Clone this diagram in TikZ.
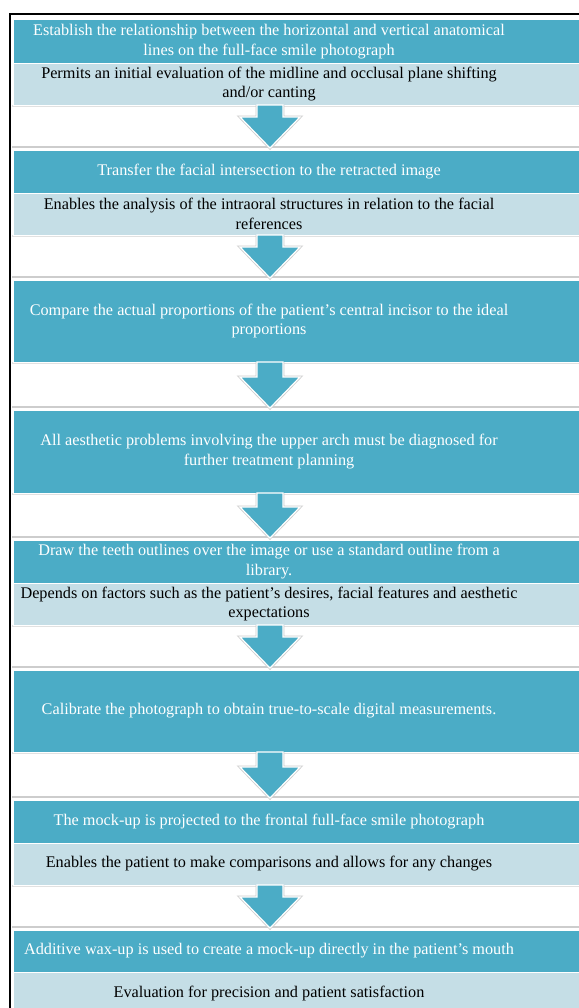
\documentclass[tikz,border=0pt]{standalone}
\usepackage{fontspec}
\setmainfont{Liberation Serif}
\usetikzlibrary{calc}
\definecolor{tealbox}{RGB}{75,172,198}
\definecolor{palebox}{RGB}{197,222,230}
\definecolor{sepgray}{RGB}{205,205,205}
\tikzset{
  darkbox/.style={fill=tealbox, draw=white, line width=0.8bp, anchor=north west, inner sep=0pt, outer sep=0pt, minimum width=620bp},
  lightbox/.style={fill=palebox, draw=white, line width=0.8bp, anchor=north west, inner sep=0pt, outer sep=0pt, minimum width=620bp},
  darktext/.style={text=white, font=\fontsize{16.3}{20}\selectfont, align=center, inner sep=0pt},
  lighttext/.style={text=black, font=\fontsize{16.3}{20}\selectfont, align=center, inner sep=0pt},
  sepline/.style={draw=sepgray, line width=1.2bp},
  flowarrow/.style={fill=tealbox, draw=white, line width=1.2bp, line join=miter},
  flowshadow/.style={draw=sepgray, line width=2.8bp, line join=miter},
  frameline/.style={draw=black, line width=2.6bp}
}
\newcommand{\flowarr}[2]{%
  \path[flowshadow] ($(#1)+(-13,0)$) -- ($(#2)+(-13,-31)$) -- ($(#2)+(-30,-31)$) -- (#2) -- ($(#2)+(30,-31)$) -- ($(#2)+(13,-31)$) -- ($(#1)+(13,0)$);
  \path[flowarrow] ($(#1)+(-13,0)$) -- ($(#1)+(13,0)$) -- ($(#2)+(13,-31)$) -- ($(#2)+(30,-31)$) -- (#2) -- ($(#2)+(-30,-31)$) -- ($(#2)+(-13,-31)$) -- cycle;
}
\begin{document}
\begin{tikzpicture}[x=1bp,y=-1bp]
\useasboundingbox (0,0) rectangle (579,1008);
\fill[white] (0,0) rectangle (579,1008);
\clip (0,0) rectangle (579,1008);

% group separator lines
\foreach \yy in {147,277,407,537,667,797,927} {
  \path[sepline] (12,\yy) -- (600,\yy);
}
\foreach \yy in {106,236,363,494,626,753,886} {
  \path[sepline, draw=sepgray!60] (12,\yy) -- (600,\yy);
}

% stage 1
\node[darkbox, minimum height=44bp] (s1) at (13,19) {};
\node[lightbox, minimum height=42bp] (c1) at (13,63) {};
\node[darktext] (t1) at (269,41.5) {Establish the relationship between the horizontal and vertical anatomical\\lines on the full-face smile photograph};
\node[lighttext] (u1) at (269,84) {Permits an initial evaluation of the midline and occlusal plane shifting\\and/or canting};

% stage 2
\node[darkbox, minimum height=43bp] (s2) at (13,150) {};
\node[lightbox, minimum height=42bp] (c2) at (13,193) {};
\node[darktext] (t2) at (269,171.5) {Transfer the facial intersection to the retracted image};
\node[lighttext] (u2) at (269,214) {Enables the analysis of the intraoral structures in relation to the facial\\references};

% stage 3
\node[darkbox, minimum height=82bp] (s3) at (13,280) {};
\node[darktext] (t3) at (269,321) {Compare the actual proportions of the patient’s central incisor to the ideal\\proportions};

% stage 4
\node[darkbox, minimum height=83bp] (s4) at (13,410) {};
\node[darktext] (t4) at (269,451.5) {All aesthetic problems involving the upper arch must be diagnosed for\\further treatment planning};

% stage 5
\node[darkbox, minimum height=43bp] (s5) at (13,540) {};
\node[lightbox, minimum height=42bp] (c5) at (13,583) {};
\node[darktext] (t5) at (269,561.5) {Draw the teeth outlines over the image or use a standard outline from a\\library.};
\node[lighttext] (u5) at (269,604) {Depends on factors such as the patient’s desires, facial features and aesthetic\\expectations};

% stage 6
\node[darkbox, minimum height=82bp] (s6) at (13,670) {};
\node[darktext] (t6) at (269,711) {Calibrate the photograph to obtain true-to-scale digital measurements.};

% stage 7
\node[darkbox, minimum height=43bp] (s7) at (13,800) {};
\node[lightbox, minimum height=42bp] (c7) at (13,843) {};
\node[darktext] (t7) at (269,821.5) {The mock-up is projected to the frontal full-face smile photograph};
\node[lighttext] (u7) at (269,864) {Enables the patient to make comparisons and allows for any changes};

% stage 8
\node[darkbox, minimum height=42bp] (s8) at (13,930) {};
\node[lightbox, minimum height=44bp] (c8) at (13,972) {};
\node[darktext] (t8) at (269,951) {Additive wax-up is used to create a mock-up directly in the patient’s mouth};
\node[lighttext] (u8) at (269,993) {Evaluation for precision and patient satisfaction};

% arrows
\coordinate (a1) at ($(c1.south west)+(257,0)$); \coordinate (b1) at ($(s2.north west)+(257,-2)$);
\coordinate (a2) at ($(c2.south west)+(257,0)$); \coordinate (b2) at ($(s3.north west)+(257,-2)$);
\coordinate (a3) at ($(s3.south west)+(257,0)$); \coordinate (b3) at ($(s4.north west)+(257,-2)$);
\coordinate (a4) at ($(s4.south west)+(257,0)$); \coordinate (b4) at ($(s5.north west)+(257,-2)$);
\coordinate (a5) at ($(c5.south west)+(257,0)$); \coordinate (b5) at ($(s6.north west)+(257,-2)$);
\coordinate (a6) at ($(s6.south west)+(257,0)$); \coordinate (b6) at ($(s7.north west)+(257,-2)$);
\coordinate (a7) at ($(c7.south west)+(257,0)$); \coordinate (b7) at ($(s8.north west)+(257,-2)$);
\flowarr{a1}{b1}
\flowarr{a2}{b2}
\flowarr{a3}{b3}
\flowarr{a4}{b4}
\flowarr{a5}{b5}
\flowarr{a6}{b6}
\flowarr{a7}{b7}

% outer frame
\path[frameline] (10,1012) -- (10,14) -- (590,14);
\end{tikzpicture}
\end{document}
